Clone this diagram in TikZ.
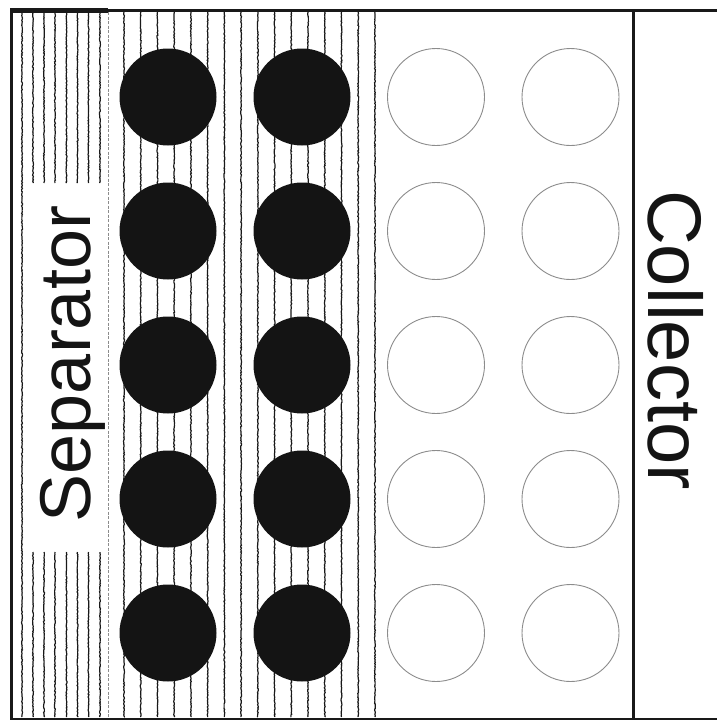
\documentclass[tikz,border=0pt]{standalone}
\usepackage{fontspec}
\newfontfamily\arialfont{Liberation Sans}
\usetikzlibrary{decorations.pathmorphing}
\begin{document}
\begin{tikzpicture}[x=1pt,y=-1pt,
  frameline/.style={line width=3pt,draw=black!90},
  hatch/.style={draw=black!90,line width=1.2pt,decorate,decoration={random steps,segment length=1.2pt,amplitude=0.45pt}},
  fullball/.style={circle,fill=black!92,draw=none,minimum size=97pt,inner sep=0pt},
  emptyball/.style={circle,draw=black!45,line width=0.9pt,fill=white,minimum size=97pt,inner sep=0pt},
  bigtext/.style={font=\arialfont\fontsize{72}{72}\selectfont,inner sep=0pt,text=black!92}]
\pgfmathsetseed{7}
\useasboundingbox (0,0) rectangle (717,720);
% separator hatching
\draw[hatch] (22,13) -- (22,717);
\foreach \x in {33,44,55,66.5,77.5,88.5,100}{
  \draw[hatch] (\x,13) -- (\x,183);
  \draw[hatch] (\x,552) -- (\x,717);
}
\draw[black!45,line width=0.6pt,dash pattern=on 3pt off 1.5pt] (108,12) -- (108,717);
% electrode hatching
\foreach \k in {0,...,15}{
  \draw[hatch] (124+16.73*\k,12) -- (124+16.73*\k,717);
}
% particles
\foreach \r/\y in {1/97,2/231,3/365,4/499,5/633}{
  \node[fullball] (a\r) at (168,\y) {};
  \node[fullball] (b\r) at (302,\y) {};
  \node[emptyball] (c\r) at (436,\y) {};
  \node[emptyball] (d\r) at (570.5,\y) {};
}
% frame
\draw[frameline] (10,10) -- (717,10);
\draw[line width=4.5pt,black!90] (10,10.5) -- (108,10.5);
\draw[frameline] (11.5,8.5) -- (11.5,720);
\draw[frameline] (10,719) -- (717,719);
\draw[frameline] (633,10) -- (633,720);
% labels
\node[bigtext,rotate=90,anchor=base] (sep) at (90,364) {Separator};
\node[bigtext,rotate=-90,anchor=base,font=\arialfont\fontsize{76}{76}\selectfont] (col) at (648,340) {Collector};
\end{tikzpicture}
\end{document}
